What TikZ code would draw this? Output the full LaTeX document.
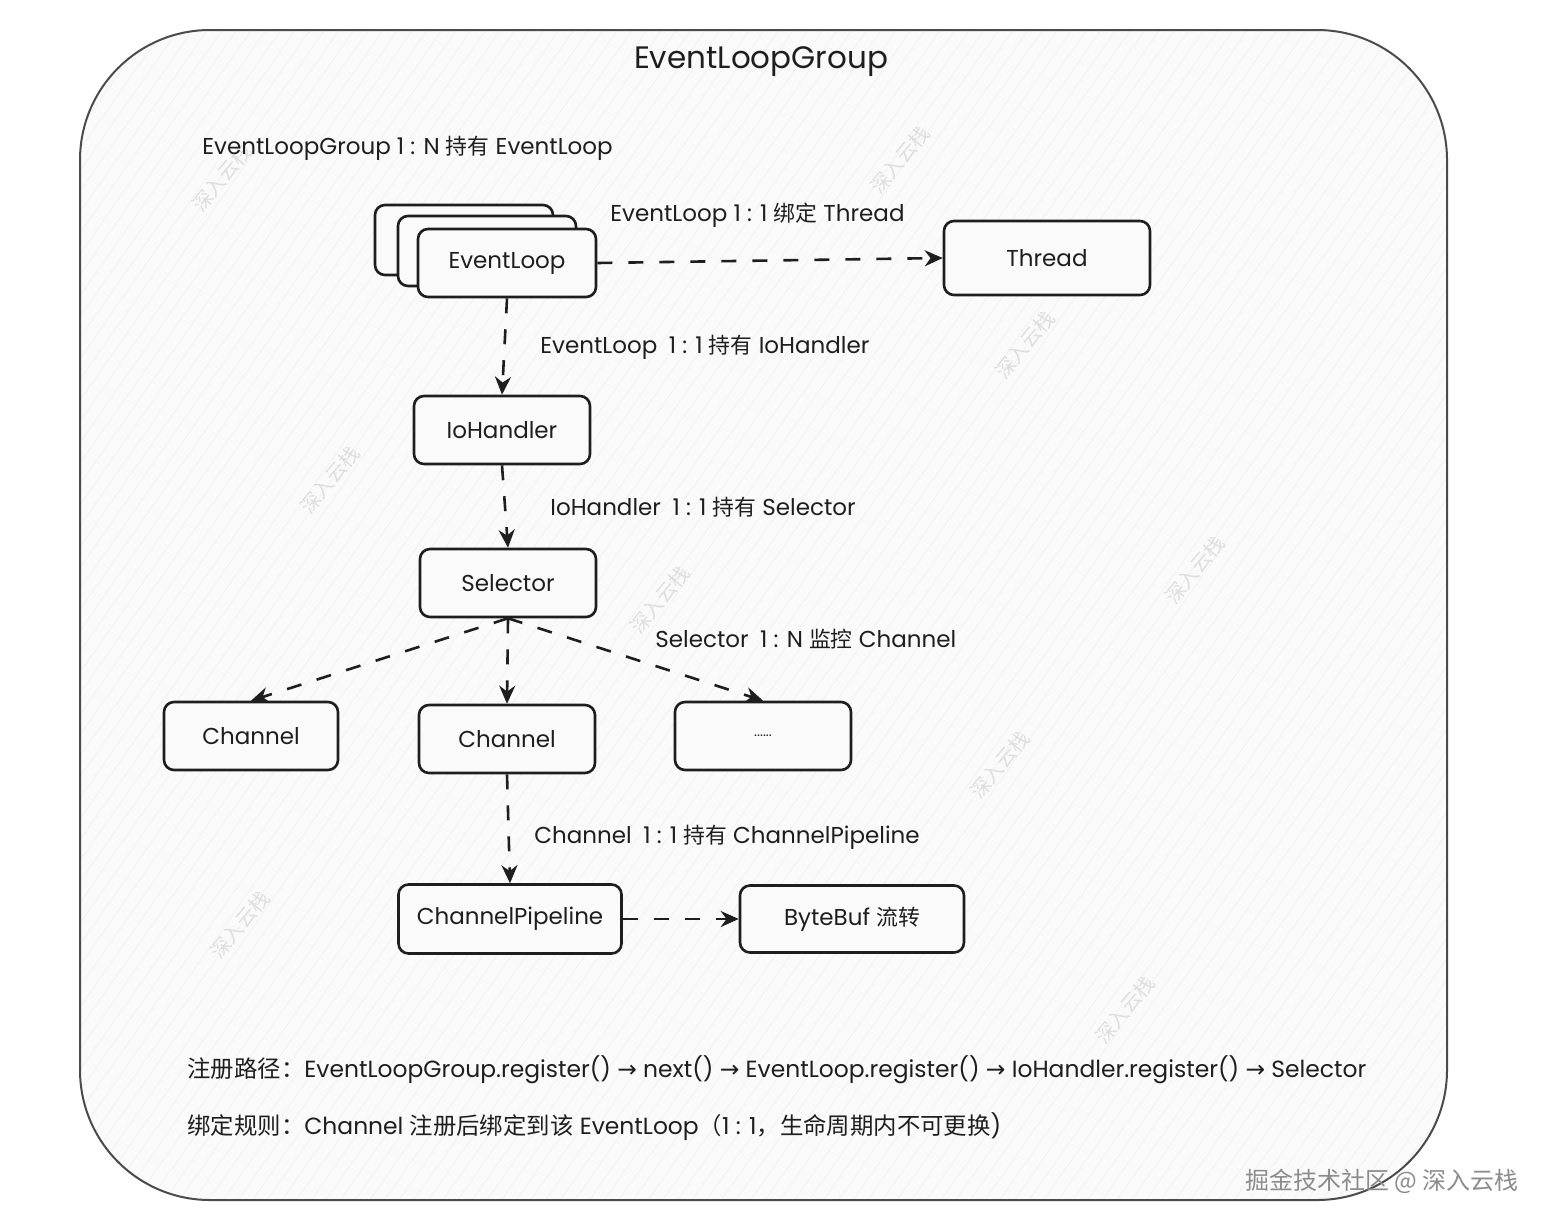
\documentclass[tikz,border=0pt]{standalone}
\usepackage{fontspec}
\setmainfont{Poppins}
\newfontfamily\cjk[Scale=0.95]{Noto Sans CJK SC}
\newfontfamily\cjkb{Noto Sans CJK SC}
\newfontfamily\symf{DejaVu Sans}
\usetikzlibrary{arrows.meta,patterns.meta}
\newcommand\zh[1]{{\cjk #1}}
\newcommand\zhb[1]{{\cjkb #1}}
\newcommand\rarr{{\symf →}}
\definecolor{bgc}{RGB}{250,250,250}
\definecolor{ink}{RGB}{30,30,30}
\tikzset{
  box/.style={draw=ink, line width=1.3pt, rounded corners=5pt, fill=bgc,
    minimum width=88pt, minimum height=34pt, inner sep=0pt,
    font=\fontsize{11.5}{14}\selectfont, text=ink},
  conn/.style={draw=ink, line width=1.3pt, dash pattern=on 7.5pt off 8pt,
    -{Stealth[length=9pt,width=8pt]}},
  lbl/.style={anchor=west, inner sep=0pt, font=\fontsize{11.5}{14}\selectfont, text=ink},
  bot/.style={anchor=west, inner sep=0pt, font=\fontsize{11.7}{14}\selectfont, text=ink},
  wm/.style={text=black!13, rotate=50, inner sep=0pt, font=\cjkb\fontsize{10}{12}\selectfont}
}
\begin{document}
\begin{tikzpicture}[x=0.5pt,y=-0.5pt]
\useasboundingbox (0,0) rectangle (1556,1226);
\fill[white] (0,0) rectangle (1556,1226);
% outer group frame
\fill[bgc, rounded corners=65pt] (80,30) rectangle (1447,1200);
\fill[pattern={Lines[angle=55,distance=6pt,line width=0.35pt]}, pattern color=black!5, rounded corners=65pt] (80,30) rectangle (1447,1200);
\draw[draw=ink!80, line width=1pt, rounded corners=65pt] (80,30) rectangle (1447,1200);
% watermarks
\foreach \p in {(222,178),(900,160),(1025,345),(330,480),(660,600),(1195,570),(1000,765),(240,925),(1125,1010)}
  \node[wm] at \p {深入云栈};
% title
\node[inner sep=0pt, font=\fontsize{15.5}{18}\selectfont, text=ink] (title) at (761,62) {EventLoopGroup};
\node[lbl] (l1) at (202,148) {EventLoopGroup 1 : N \zh{持有} EventLoop};
% nodes
\node[box, minimum width=89pt, minimum height=35pt] (elc) at (464,240) {};
\node[box, minimum width=89pt, minimum height=35pt] (elb) at (487,251) {};
\node[box, minimum width=89pt] (el) at (507,263) {EventLoop};
\node[box, minimum width=103pt, minimum height=37pt] (th) at (1047,258) {Thread};
\node[box] (io) at (502,430) {IoHandler};
\node[box] (sel) at (508,583) {Selector};
\node[box, minimum width=87pt] (ch1) at (251,736) {Channel};
\node[box] (ch2) at (507,739) {Channel};
\node[box] (dots) at (763,736) {\fontsize{7}{8}\selectfont ......};
\node[box, minimum width=111.5pt, minimum height=34.5pt] (cp) at (510,919) {ChannelPipeline};
\node[box, minimum width=112pt, minimum height=33.5pt] (bb) at (852,919) {ByteBuf \zh{流转}};
% connectors
\draw[conn] (el.east) -- (th.west);
\draw[conn] (el.south) -- (io.north);
\draw[conn] (io.south) -- (sel.north);
\draw[conn] (sel.south) -- (ch1.north);
\draw[conn] (sel.south) -- (ch2.north);
\draw[conn] (sel.south) -- (dots.north);
\draw[conn] (ch2.south) -- (cp.north);
\draw[conn] (cp.east) -- (bb.west);
% labels
\node[lbl] (l2) at (610,215) {EventLoop 1 : 1 \zh{绑定} Thread};
\node[lbl] (l3) at (540,347) {EventLoop\enspace 1 : 1 \zh{持有} IoHandler};
\node[lbl] (l4) at (550,507) {IoHandler\enspace 1 : 1 \zh{持有} Selector};
\node[lbl] (l5) at (655,639) {Selector\enspace 1 : N \zh{监控} Channel};
\node[lbl] (l6) at (534,837) {Channel\enspace 1 : 1 \zh{持有} ChannelPipeline};
% bottom notes
\node[bot] (n1) at (187,1070) {\zhb{注册路径：}EventLoopGroup.register() \rarr{} next() \rarr{} EventLoop.register() \rarr{} IoHandler.register() \rarr{} Selector};
\node[bot] (n2) at (187,1127) {\zhb{绑定规则：}Channel \zhb{注册后绑定到该} EventLoop\zhb{（}1 : 1\zhb{，生命周期内不可更换})};
% site mark
\node[inner sep=0pt, text=black!45, font=\cjkb\fontsize{12}{14}\selectfont] (site) at (1382,1181) {掘金技术社区 @ 深入云栈};
\end{tikzpicture}
\end{document}
